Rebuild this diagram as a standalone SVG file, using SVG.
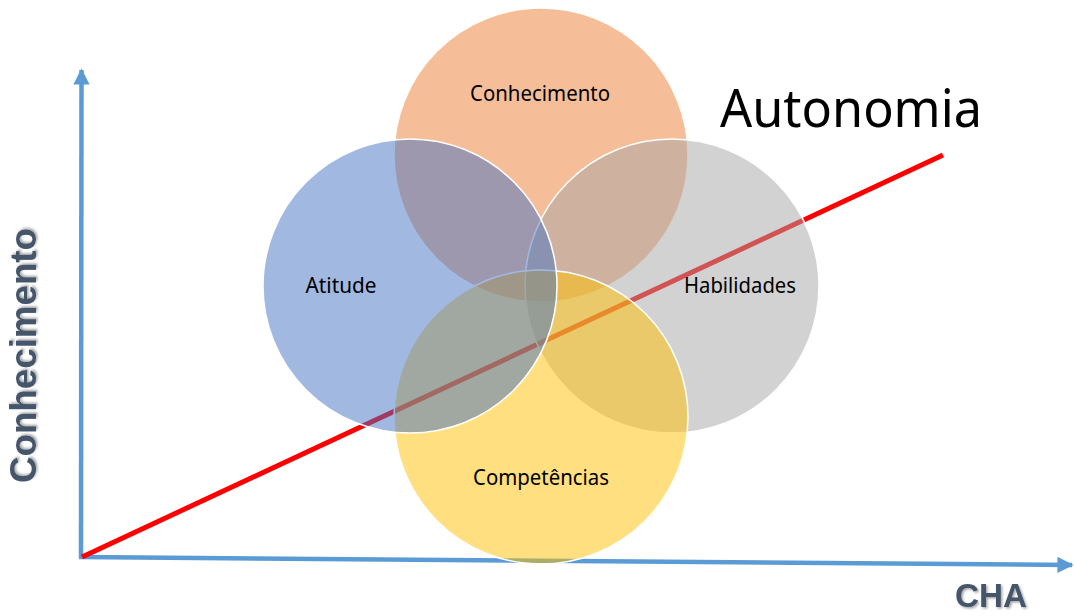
<svg xmlns="http://www.w3.org/2000/svg" width="1074" height="616" viewBox="0 0 1074 616">
<defs>
  <style>
    .venn { stroke: #FFFFFF; stroke-width: 1.5; fill-opacity: 0.5; }
    .lbl { font-family: "Noto Sans", "Open Sans", "DejaVu Sans", sans-serif; font-size: 21px; fill: #000000; text-anchor: middle; }
    .axlbl { font-family: "Liberation Sans", Arial, sans-serif; font-weight: bold; fill: #44546A; filter: url(#shadow); }
    .axis { stroke: #5B9BD5; stroke-width: 4.5; fill: none; }
  </style>
  <filter id="shadow" x="-20%" y="-20%" width="140%" height="140%">
    <feDropShadow dx="1.5" dy="1.5" stdDeviation="1.2" flood-color="#000000" flood-opacity="0.35"/>
  </filter>
  <marker id="arrowBlue" viewBox="0 0 10 10" refX="9" refY="5" markerWidth="3.6" markerHeight="3.6" markerUnits="strokeWidth" orient="auto">
    <path d="M0,0 L10,5 L0,10 Z" fill="#5B9BD5"/>
  </marker>
</defs>

<g id="connectors">
  <line id="y-axis" class="axis" x1="81" y1="558" x2="81.5" y2="70" marker-end="url(#arrowBlue)"/>
  <line id="x-axis" class="axis" x1="79" y1="557" x2="1072" y2="565" marker-end="url(#arrowBlue)"/>
  <line id="autonomia-line" x1="82" y1="557" x2="943" y2="155" stroke="#FF0000" stroke-width="5"/>
</g>

<g id="node-conhecimento">
  <circle class="venn" cx="541" cy="155" r="147" fill="#ED7D31"/>
</g>
<g id="node-habilidades">
  <circle class="venn" cx="672" cy="286" r="147" fill="#A5A5A5"/>
</g>
<g id="node-competencias">
  <circle class="venn" cx="541" cy="417" r="147" fill="#FFC000"/>
</g>
<g id="node-atitude">
  <circle class="venn" cx="410" cy="286" r="147" fill="#4472C4"/>
</g>

<g id="labels">
  <text class="lbl" x="540" y="101" textLength="140" lengthAdjust="spacingAndGlyphs">Conhecimento</text>
  <text class="lbl" x="341" y="293" textLength="71" lengthAdjust="spacingAndGlyphs">Atitude</text>
  <text class="lbl" x="740" y="293" textLength="112" lengthAdjust="spacingAndGlyphs">Habilidades</text>
  <text class="lbl" x="541" y="485" textLength="136" lengthAdjust="spacingAndGlyphs">Competências</text>
</g>

<g id="title-autonomia">
  <text x="720" y="127" font-family="Noto Sans, Open Sans, DejaVu Sans, sans-serif" font-size="52" fill="#000000" textLength="262" lengthAdjust="spacingAndGlyphs">Autonomia</text>
</g>

<g id="axis-labels">
  <text class="axlbl" font-size="36" transform="translate(36,483) rotate(-90)" textLength="255" lengthAdjust="spacingAndGlyphs">Conhecimento</text>
  <text class="axlbl" font-size="34" x="955" y="607" textLength="72" lengthAdjust="spacingAndGlyphs">CHA</text>
</g>
</svg>
